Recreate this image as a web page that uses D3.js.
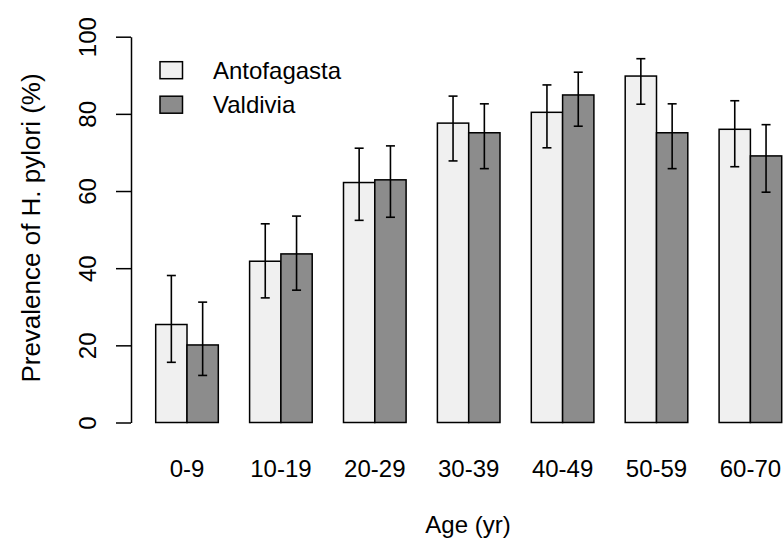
<!DOCTYPE html>
<html><head><meta charset="utf-8">
<script src="https://cdn.jsdelivr.net/npm/d3@7"></script>
<style>body{margin:0;background:#fff}svg{display:block}text{font-family:"Liberation Sans",Arial,sans-serif;fill:#000}</style>
</head><body><svg id="c" width="783" height="542"></svg>
<script>
const categories = ["0-9","10-19","20-29","30-39","40-49","50-59","60-70"];
const seriesNames = ["Antofagasta","Valdivia"];
const antofagasta = [25.4, 41.8, 62.2, 77.6, 80.4, 89.8, 76.0];
const valdivia    = [20.1, 43.7, 62.9, 75.1, 84.9, 75.1, 69.1];
const antofagastaLow  = [15.6, 32.3, 52.4, 67.8, 71.2, 82.5, 66.3];
const antofagastaHigh = [38.1, 51.5, 71.1, 84.6, 87.5, 94.3, 83.4];
const valdiviaLow  = [12.2, 34.3, 53.2, 65.8, 76.8, 65.8, 59.7];
const valdiviaHigh = [31.2, 53.5, 71.7, 82.6, 90.8, 82.6, 77.2];
const yTicks = [0, 20, 40, 60, 80, 100];
const fills = ["#f0f0f0", "#8c8c8c"];

const svg = d3.select("#c");
const y = d3.scaleLinear().domain([0, 100]).range([422.5, 36.7]);
const x0 = d3.scaleBand().domain(categories).range([155.7, 781.7]).paddingInner(1/3).paddingOuter(0);
const x1 = d3.scaleBand().domain(seriesNames).range([0, x0.bandwidth()]).padding(0);

const data = categories.map((c, i) => ({
  cat: c,
  vals: [
    {s: seriesNames[0], v: antofagasta[i], lo: antofagastaLow[i], hi: antofagastaHigh[i], f: fills[0]},
    {s: seriesNames[1], v: valdivia[i], lo: valdiviaLow[i], hi: valdiviaHigh[i], f: fills[1]}
  ]
}));

const g = svg.append("g").selectAll("g").data(data).join("g")
  .attr("transform", d => `translate(${x0(d.cat)},0)`);
g.selectAll("rect").data(d => d.vals).join("rect")
  .attr("x", d => x1(d.s)).attr("width", x1.bandwidth())
  .attr("y", d => y(d.v)).attr("height", d => y(0) - y(d.v))
  .attr("fill", d => d.f).attr("stroke", "#000").attr("stroke-width", 1.5);

const cap = 4.5;
const eb = g.selectAll("g.eb").data(d => d.vals).join("g").attr("class", "eb")
  .attr("stroke", "#000").attr("stroke-width", 1.6);
eb.append("line").attr("x1", d => x1(d.s) + x1.bandwidth()/2).attr("x2", d => x1(d.s) + x1.bandwidth()/2)
  .attr("y1", d => y(d.lo)).attr("y2", d => y(d.hi));
eb.append("line").attr("x1", d => x1(d.s) + x1.bandwidth()/2 - cap).attr("x2", d => x1(d.s) + x1.bandwidth()/2 + cap)
  .attr("y1", d => y(d.lo)).attr("y2", d => y(d.lo));
eb.append("line").attr("x1", d => x1(d.s) + x1.bandwidth()/2 - cap).attr("x2", d => x1(d.s) + x1.bandwidth()/2 + cap)
  .attr("y1", d => y(d.hi)).attr("y2", d => y(d.hi));

// Y axis
const yAxis = d3.axisLeft(y).tickValues(yTicks).tickSize(15).tickSizeOuter(0).tickPadding(0);
const ya = svg.append("g").attr("transform", "translate(131,0)").call(yAxis);
ya.select(".domain").attr("stroke", "#000").attr("stroke-width", 1.5);
ya.selectAll(".tick line").attr("stroke", "#000").attr("stroke-width", 1.5);
ya.selectAll(".tick text").remove();
ya.selectAll(".tick").append("text")
  .attr("transform", "translate(-35,0) rotate(-90)")
  .attr("text-anchor", "middle").attr("font-size", 24)
  .style("font-family", '"Liberation Sans",Arial,sans-serif')
  .text(d => d);

// category labels
svg.append("g").selectAll("text").data(categories).join("text")
  .attr("x", d => x0(d) + x0.bandwidth()/2).attr("y", 476.7)
  .attr("text-anchor", "middle").attr("font-size", 24).text(d => d);

// axis titles
svg.append("text").attr("x", 468).attr("y", 533).attr("text-anchor", "middle")
  .attr("font-size", 24).text("Age (yr)");
svg.append("text").attr("transform", "translate(40,228) rotate(-90)")
  .attr("text-anchor", "middle").attr("font-size", 26).text("Prevalence of H. pylori (%)");

// legend
const leg = svg.append("g").selectAll("g").data(seriesNames).join("g")
  .attr("transform", (d, i) => `translate(160,${61.7 + i * 34.5})`);
leg.append("rect").attr("width", 22.5).attr("height", 17).attr("fill", (d, i) => fills[i])
  .attr("stroke", "#000").attr("stroke-width", 1.5);
leg.append("text").attr("x", 53).attr("y", 17).attr("font-size", 24).text(d => d);
</script></body></html>
